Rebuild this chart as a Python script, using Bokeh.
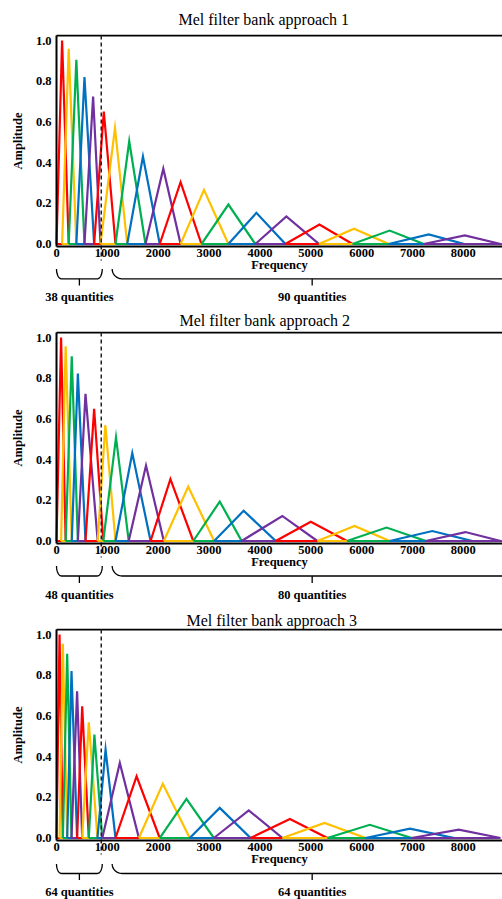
import numpy as np
from bokeh.plotting import figure
from bokeh.models import LinearAxis, FixedTicker, Range1d, NumeralTickFormatter
from bokeh.layouts import column
from bokeh.embed import file_html
from bokeh.resources import INLINE
from bokeh.core.properties import value

# ---------------- data ----------------
titles = ["Mel filter bank approach 1", "Mel filter bank approach 2", "Mel filter bank approach 3"]
x_ticks = [0, 1000, 2000, 3000, 4000, 5000, 6000, 7000, 8000]
y_ticks = [0.0, 0.2, 0.4, 0.6, 0.8, 1.0]
filter_colors = ["#FF0000", "#FFC000", "#00B050", "#0070C0", "#7030A0"]

# approach 1: peak frequency (Hz), peak amplitude, and band edges (filter i spans edges[i]..edges[i+2])
peaks_1 = [110, 240, 390, 550, 720, 930, 1150, 1430, 1700, 2100, 2440, 2900, 3380, 3930, 4520, 5170, 5850, 6550, 7320, 8030]
heights_1 = [1.0, 0.959, 0.905, 0.82, 0.725, 0.651, 0.569, 0.505, 0.43, 0.37, 0.304, 0.266, 0.194, 0.153, 0.135, 0.096, 0.075, 0.066, 0.047, 0.042]
edges_1 = [0, 110, 240, 390, 550, 740, 865, 1160, 1390, 1750, 2030, 2440, 2850, 3380, 3910, 4500, 5160, 5820, 6530, 7220, 8010, 8730]

# approach 2
peaks_2 = [90, 180, 300, 420, 570, 740, 960, 1170, 1490, 1760, 2240, 2590, 3210, 3680, 4440, 5000, 5860, 6490, 7390, 8040]
heights_2 = [1.0, 0.957, 0.908, 0.823, 0.723, 0.65, 0.57, 0.509, 0.432, 0.371, 0.304, 0.267, 0.194, 0.149, 0.123, 0.095, 0.074, 0.066, 0.049, 0.044]
edges_2 = [0, 90, 180, 300, 420, 570, 810, 920, 1160, 1420, 1850, 2110, 2690, 3100, 3640, 4310, 5130, 5710, 6550, 7260, 8170, 8730]

# approach 3
peaks_3 = [60, 125, 210, 295, 405, 505, 635, 745, 965, 1245, 1575, 2090, 2555, 3210, 3780, 4590, 5270, 6160, 6950, 7910]
heights_3 = [1.0, 0.954, 0.905, 0.82, 0.721, 0.647, 0.569, 0.508, 0.434, 0.369, 0.303, 0.266, 0.192, 0.148, 0.136, 0.093, 0.074, 0.065, 0.046, 0.041]
edges_3 = [0, 60, 125, 210, 295, 405, 505, 635, 805, 900, 1160, 1620, 2030, 2620, 3095, 3815, 4440, 5325, 6075, 6980, 7810, 8730]

split_hz = 880                 # dashed boundary line
low_band = (0, 900)            # extent of the left brace
high_band = (1095, 8960)       # extent of the right brace
low_counts = ["38 quantities", "48 quantities", "64 quantities"]
high_counts = ["90 quantities", "80 quantities", "64 quantities"]

panels = [
    (titles[0], peaks_1, heights_1, edges_1, low_counts[0], high_counts[0]),
    (titles[1], peaks_2, heights_2, edges_2, low_counts[1], high_counts[1]),
    (titles[2], peaks_3, heights_3, edges_3, low_counts[2], high_counts[2]),
]

# ---------------- layout / style ----------------
FONT = "Liberation Serif"
W = 502
AXIS_PX = 56                  # pixel column of the amplitude axis
X_END = 8770
hz_per_px = X_END / (W - AXIS_PX)
X_START = -AXIS_PX * hz_per_px
PX_PER_UNIT = 203.5           # vertical pixels per amplitude unit
Y_TOP = 1.0246                # top border of the box
FIG_H = [305, 297, 297]
TOP_PANEL = [34, 26, 26]
FRAME_H = 271
title_offsets = [178, 179, 186]
title_standoffs = [13, 6, 0]
# pixel offsets below the zero line: dashed end, brace end, brace bar, brace tip, text
offsets = [(16.5, 25, 34.8, 41.5, 52.5), (16.5, 25, 35, 42, 54), (16.5, 26, 35.5, 42, 54)]


def d(px):
    return -px / PX_PER_UNIT


def brace(x0, x1, y_end, y_bar, rx, n=14):
    t = np.linspace(0, np.pi / 2, n)
    xl = x0 + rx - rx * np.cos(t)
    yl = y_end - (y_end - y_bar) * np.sin(t)
    xr = x1 - rx + rx * np.cos(t[::-1])
    yr = y_end - (y_end - y_bar) * np.sin(t[::-1])
    return list(np.concatenate([xl, xr])), list(np.concatenate([yl, yr]))


figs = []
for k, (title, peaks, heights, edges, lowtxt, hightxt) in enumerate(panels):
    H = FIG_H[k]
    y_end = Y_TOP + 1.0 / PX_PER_UNIT
    y_start = y_end - FRAME_H / PX_PER_UNIT
    p = figure(width=W, height=H, x_range=Range1d(X_START, X_END), y_range=Range1d(y_start, y_end),
               output_backend="svg", toolbar_location=None, x_axis_type=None, y_axis_type=None,
               min_border_left=0, min_border_right=0, min_border_top=TOP_PANEL[k], min_border_bottom=0)
    p.outline_line_color = None
    p.background_fill_color = "white"
    p.border_fill_color = "white"

    p.title.text = title
    p.title.text_font = FONT
    p.title.text_font_size = "16px"
    p.title.text_font_style = "normal"
    p.title.text_color = "black"
    p.title.align = "left"
    p.title.offset = title_offsets[k]
    p.title.standoff = title_standoffs[k]

    o_dash, o_end, o_bar, o_tip, o_text = offsets[k]
    axis_y = d(2.5)

    xaxis = LinearAxis(ticker=FixedTicker(ticks=x_ticks), formatter=NumeralTickFormatter(format="0"),
                       fixed_location=axis_y, bounds=(0, X_END), axis_label="Frequency")
    yaxis = LinearAxis(ticker=FixedTicker(ticks=y_ticks), formatter=NumeralTickFormatter(format="0.0"),
                       fixed_location=0, bounds=(axis_y, Y_TOP), axis_label="Amplitude")
    for ax in (xaxis, yaxis):
        ax.axis_line_width = 2
        ax.axis_line_color = "black"
        ax.major_tick_line_color = None
        ax.minor_tick_line_color = None
        ax.major_tick_out = 0
        ax.major_tick_in = 0
        ax.major_label_text_font = FONT
        ax.major_label_text_font_style = "bold"
        ax.major_label_text_font_size = "12.5px"
        ax.major_label_text_color = "black"
        ax.axis_label_text_font = FONT
        ax.axis_label_text_font_style = "bold"
        ax.axis_label_text_font_size = "12.5px"
        ax.axis_label_text_color = "black"
    xaxis.major_label_standoff = 2
    xaxis.axis_label_standoff = -2
    yaxis.major_label_standoff = 5
    yaxis.axis_label_standoff = 8
    p.add_layout(xaxis, "below")
    p.add_layout(yaxis, "left")

    # top border of the box
    p.segment(x0=[0], y0=[Y_TOP], x1=[X_END], y1=[Y_TOP], line_color="black", line_width=2)

    # filters
    xs, ys, cs = [], [], []
    for i in range(len(peaks)):
        xs.append([edges[i], peaks[i], edges[i + 2], edges[i]])
        ys.append([0, heights[i], 0, 0])
        cs.append(filter_colors[i % len(filter_colors)])
    p.multi_line(xs=xs, ys=ys, line_color=cs, line_width=2.2, line_join="miter")

    # dashed boundary
    p.segment(x0=[split_hz], y0=[Y_TOP], x1=[split_hz], y1=[d(o_dash)],
              line_color="#222222", line_width=1.5, line_dash="4 3")

    # braces
    bx, by = [], []
    for (a, b), rpx in ((low_band, 5), (high_band, 10)):
        u, v = brace(a, b, d(o_end), d(o_bar), rpx * hz_per_px)
        bx.append(u)
        by.append(v)
        m = (a + b) / 2
        bx.append([m, m])
        by.append([d(o_bar), d(o_tip)])
    p.multi_line(xs=bx, ys=by, line_color="black", line_width=1.3)

    p.text(x=[(low_band[0] + low_band[1]) / 2, (high_band[0] + high_band[1]) / 2],
           y=[d(o_text), d(o_text)], text=[lowtxt, hightxt],
           text_font=value(FONT), text_font_style="bold", text_font_size="12.5px",
           text_align="center", text_baseline="middle", text_color="black")

    figs.append(p)

layout = column(*figs)
open("out.html", "w").write(file_html(layout, INLINE))
